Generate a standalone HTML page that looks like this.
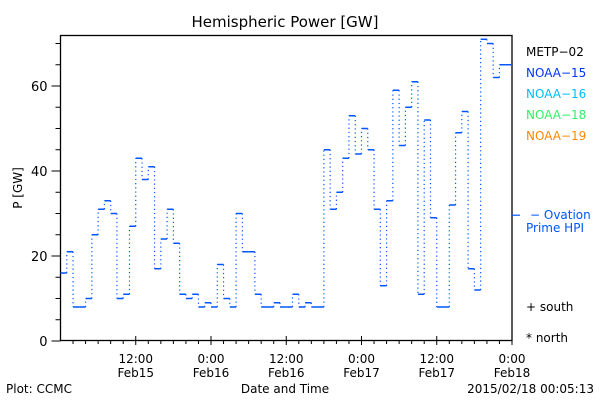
<!DOCTYPE html>
<html><head><meta charset="utf-8"><style>
body{margin:0;background:#fff;}
svg{display:block;font-family:"DejaVu Sans","Liberation Sans",sans-serif;}
</style></head><body>
<svg id="chart" width="600" height="400" viewBox="0 0 600 400">
<rect x="0" y="0" width="600" height="400" fill="#fff"/>
<text x="285" y="27" font-size="15" text-anchor="middle" fill="#000">Hemispheric Power [GW]</text>
<rect x="60.5" y="35.5" width="451.5" height="305" fill="none" stroke="#000" stroke-width="1.3"/>
<g id="yaxis"></g>
<g id="xaxis"></g>
<g id="series"></g>
<text x="0" y="0" font-size="12" transform="translate(22,188) rotate(-90)" text-anchor="middle">P [GW]</text>
<text x="285" y="393" font-size="12" text-anchor="middle">Date and Time</text>
<text x="6" y="393" font-size="12">Plot: CCMC</text>
<text x="594" y="393" font-size="12" text-anchor="end">2015/02/18 00:05:13</text>
<g font-size="12">
<text x="526" y="56" fill="#000">METP−02</text>
<text x="526" y="77" fill="#0033ff">NOAA−15</text>
<text x="526" y="98" fill="#00bbff">NOAA−16</text>
<text x="526" y="119" fill="#33ee66">NOAA−18</text>
<text x="526" y="140" fill="#ff8800">NOAA−19</text>
<text x="530" y="219" fill="#0055ff">− Ovation</text>
<text x="526" y="232" fill="#0055ff">Prime HPI</text>
<text x="526" y="311" fill="#000">+ south</text>
<text x="526" y="342" fill="#000">* north</text>
</g>
</svg>
<script>
const hourValues=[16,21,8,8,10,25,31,33,30,10,11,27,43,38,41,17,24,31,23,11,10,11,8,9,8,18,10,8,30,21,21,11,8,8,9,8,8,11,8,9,8,8,45,31,35,43,53,44,50,45,31,13,33,59,46,55,61,11,52,29,8,8,32,49,54,17,12,71,70,62,65,65];
const yTicks=[0,20,40,60];
const xTickHours=[12,24,36,48,60,72];
const xTickLabels=[["12:00","Feb15"],["0:00","Feb16"],["12:00","Feb16"],["0:00","Feb17"],["12:00","Feb17"],["0:00","Feb18"]];
const ovationValue=29.6;
const NS="http://www.w3.org/2000/svg";
const X0=60.5,X1=512,Y0=341,PXU=4.25;
function xs(h){return X0+(X1-X0)*h/72;}
function ys(v){return Y0-v*PXU;}
function mk(tag,attrs,parent){const e=document.createElementNS(NS,tag);for(const k in attrs)e.setAttribute(k,attrs[k]);parent.appendChild(e);return e;}
const ya=document.getElementById('yaxis'),xa=document.getElementById('xaxis'),sg=document.getElementById('series');
for(let v=0;v<=70;v+=5){
  const major=v%20===0;
  const t=mk('line',{x1:X0-(major?9:5),x2:X0,y1:ys(v),y2:ys(v),stroke:'#000','stroke-width':1},ya);
  
  
}
yTicks.forEach(v=>{
  const t=mk('text',{x:X0-13,y:ys(v)+5,'font-size':13,'text-anchor':'end'},ya);
  t.textContent=v;
  
  
});
for(let h=2;h<=72;h+=2){
  const major=h%12===0;
  const t=mk('line',{x1:xs(h),x2:xs(h),y1:major?336:340.5,y2:major?345:344,stroke:'#000','stroke-width':1},xa);
  
  
}
xTickHours.forEach((h,i)=>{
  const t=mk('text',{x:xs(h),y:363,'font-size':12,'text-anchor':'middle'},xa);
  t.textContent=xTickLabels[i][0];
  
  
  const d=mk('text',{x:xs(h),y:377,'font-size':12,'text-anchor':'middle'},xa);
  d.textContent=xTickLabels[i][1];
  
  
});
hourValues.forEach((v,i)=>{
  const h=mk('line',{x1:xs(i),x2:Math.min(xs(i+1),X1),y1:ys(v),y2:ys(v),stroke:'#0055ff','stroke-width':1.5},sg);
  
  
  if(i>0){
    const p=hourValues[i-1];
    const vl=mk('line',{x1:xs(i),x2:xs(i),y1:ys(p),y2:ys(v),stroke:'#0055ff','stroke-width':1.2,'stroke-dasharray':'1.2,3'},sg);
    
    
  }
});
const ov=mk('line',{x1:X1,x2:X1+8,y1:ys(ovationValue),y2:ys(ovationValue),stroke:'#0055ff','stroke-width':1.2},sg);


</script>
</body></html>
